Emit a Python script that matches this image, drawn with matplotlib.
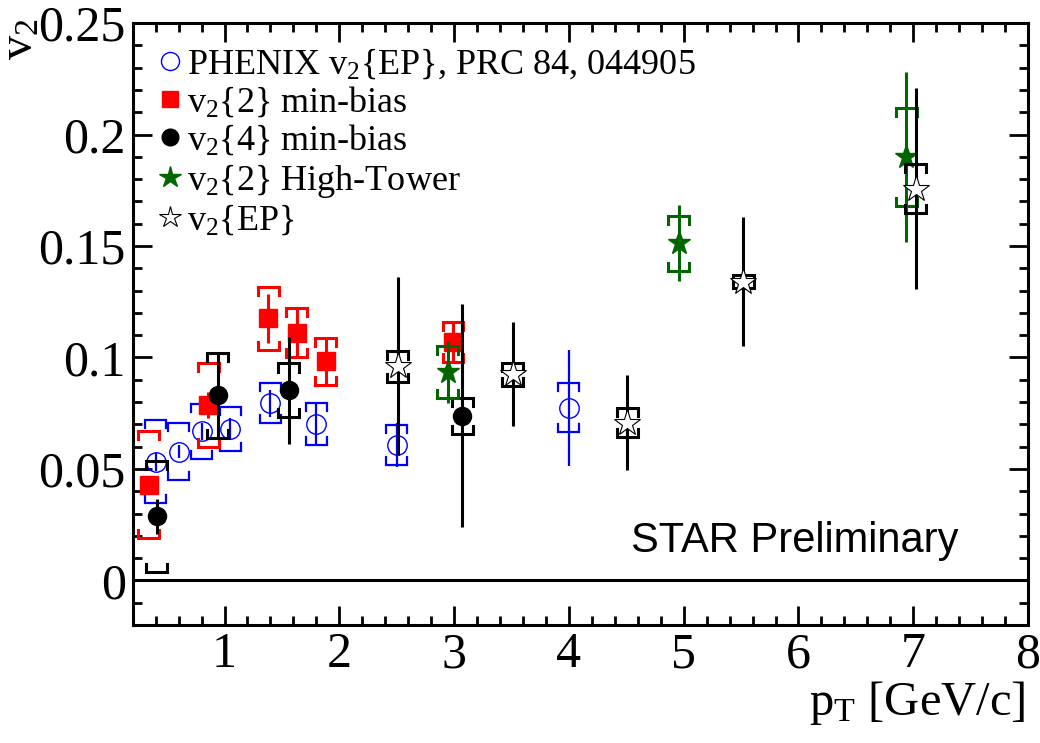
import numpy as np
import matplotlib
matplotlib.use('Agg')
from matplotlib import pyplot as plt
from matplotlib.lines import Line2D
from matplotlib.ticker import MultipleLocator, FuncFormatter

plt.rcParams['font.family'] = ['Liberation Serif', 'DejaVu Serif']
plt.rcParams['mathtext.fontset'] = 'custom'
plt.rcParams['mathtext.rm'] = 'Liberation Serif'
plt.rcParams['mathtext.it'] = 'Liberation Serif:italic'

# PHENIX v2{EP}
phx_pt = [0.40, 0.60, 0.80, 1.05, 1.40, 1.80, 2.50, 4.00]
phx_v2 = [0.0533, 0.0577, 0.0668, 0.0679, 0.0795, 0.0701, 0.0607, 0.0775]
phx_stat = [0.004, 0.003, 0.004, 0.005, 0.006, 0.009, 0.010, 0.026]
phx_sys = [0.0185, 0.0127, 0.0125, 0.010, 0.009, 0.0095, 0.009, 0.011]

# v2{2} min-bias
mb2_pt = [0.34, 0.86, 1.38, 1.63, 1.88, 2.99]
mb2_v2 = [0.0429, 0.0787, 0.1175, 0.111, 0.0982, 0.107]
mb2_stat = [0.003, 0.006, 0.011, 0.011, 0.011, 0.009]
mb2_sys = [0.024, 0.019, 0.0143, 0.011, 0.0107, 0.009]

# v2{4} min-bias
mb4_pt = [0.41, 0.94, 1.56, 3.07]
mb4_v2 = [0.0287, 0.083, 0.0853, 0.0738]
mb4_stat = [0.008, 0.019, 0.024, 0.050]
mb4_sys = [0.025, 0.019, 0.012, 0.0082]

# v2{2} High-Tower
ht_pt = [2.945, 4.955, 6.94]
ht_v2 = [0.0935, 0.1512, 0.190]
ht_stat = [0.014, 0.017, 0.038]
ht_sys = [0.0117, 0.0123, 0.022]

# v2{EP}
ep_pt = [2.507, 3.51, 4.51, 5.52, 7.02]
ep_v2 = [0.0961, 0.0924, 0.0708, 0.134, 0.1757]
ep_stat = [0.040, 0.0233, 0.0214, 0.029, 0.045]
ep_sys = [0.007, 0.005, 0.0066, 0.003, 0.011]

GREEN = '#006600'
BW = 0.091   # bracket half width (pT units)
LEG = 0.0036  # bracket leg length (v2 units)


def draw_sys(ax, xs, ys, sys, color, lw, z):
    for x, y, s in zip(xs, ys, sys):
        top = y + s
        bot = y - s
        ax.plot([x - BW, x - BW, x + BW, x + BW], [top - LEG, top, top, top - LEG],
                color=color, lw=lw, zorder=z, solid_joinstyle='miter')
        ax.plot([x - BW, x - BW, x + BW, x + BW], [bot + LEG, bot, bot, bot + LEG],
                color=color, lw=lw, zorder=z, solid_joinstyle='miter')


fig = plt.figure(figsize=(10.4, 7.43), dpi=100)
ax = fig.add_axes([0.1276, 0.1588, 0.8609, 0.8102])

ax.axhline(0, color='black', lw=2.2, zorder=1)

# PHENIX
draw_sys(ax, phx_pt, phx_v2, phx_sys, 'blue', 1.6, 2)
ax.errorbar(phx_pt, phx_v2, yerr=phx_stat, fmt='none', ecolor='blue', elinewidth=1.6, zorder=2)
ax.plot(phx_pt, phx_v2, ls='none', marker='o', ms=14, mfc='none', mec='blue', mew=1.0, zorder=3)

# v2{2} min-bias
draw_sys(ax, mb2_pt, mb2_v2, mb2_sys, 'red', 2.2, 4)
ax.errorbar(mb2_pt, mb2_v2, yerr=mb2_stat, fmt='none', ecolor='red', elinewidth=2.2, zorder=4)
ax.plot(mb2_pt, mb2_v2, ls='none', marker='s', ms=13, mfc='red', mec='red', zorder=5)

# v2{4} min-bias
draw_sys(ax, mb4_pt, mb4_v2, mb4_sys, 'black', 2.2, 6)
ax.errorbar(mb4_pt, mb4_v2, yerr=mb4_stat, fmt='none', ecolor='black', elinewidth=2.2, zorder=6)
ax.plot(mb4_pt, mb4_v2, ls='none', marker='o', ms=13, mfc='black', mec='black', zorder=7)

# v2{2} High-Tower
draw_sys(ax, ht_pt, ht_v2, ht_sys, GREEN, 2.2, 8)
ax.errorbar(ht_pt, ht_v2, yerr=ht_stat, fmt='none', ecolor=GREEN, elinewidth=2.2, zorder=8)
ax.plot(ht_pt, ht_v2, ls='none', marker='*', ms=17, mfc=GREEN, mec=GREEN, zorder=9)

# v2{EP}
draw_sys(ax, ep_pt, ep_v2, ep_sys, 'black', 2.2, 10)
ax.errorbar(ep_pt, ep_v2, yerr=ep_stat, fmt='none', ecolor='black', elinewidth=2.2, zorder=10)
ax.plot(ep_pt, ep_v2, ls='none', marker='*', ms=20, mfc='white', mec='black', mew=0.8, zorder=11)

ax.set_xlim(0.2, 8.0)
ax.set_ylim(-0.02, 0.25)

ax.xaxis.set_major_locator(MultipleLocator(1))
ax.xaxis.set_minor_locator(MultipleLocator(0.2))
ax.yaxis.set_major_locator(MultipleLocator(0.05))
ax.yaxis.set_minor_locator(MultipleLocator(0.01))
ax.yaxis.set_major_formatter(FuncFormatter(lambda v, p: ('%g' % round(v, 3))))
ax.xaxis.set_major_formatter(FuncFormatter(lambda v, p: '%d' % round(v)))

ax.tick_params(which='both', direction='in', top=True, right=True, width=2.0,
               labelsize=36, pad=5)
ax.tick_params(which='major', length=13.5)
ax.tick_params(which='minor', length=6.8)
for s in ax.spines.values():
    s.set_linewidth(2.2)

fig.text(0.986, 0.022, r'p$_{\rm T}$ [GeV/c]', ha='right', va='bottom', fontsize=35)
fig.text(0.02, 0.975, r'v$_2$', ha='center', va='top', rotation=90, fontsize=35)

ax.text(0.922, 0.121, 'STAR Preliminary', transform=ax.transAxes, ha='right', va='baseline',
        fontsize=30, family=['Liberation Sans', 'DejaVu Sans'])

handles = [
    Line2D([], [], ls='none', marker='o', ms=13, mfc='none', mec='blue', mew=1.0),
    Line2D([], [], ls='none', marker='s', ms=12, mfc='red', mec='red'),
    Line2D([], [], ls='none', marker='o', ms=12, mfc='black', mec='black'),
    Line2D([], [], ls='none', marker='*', ms=16, mfc=GREEN, mec=GREEN),
    Line2D([], [], ls='none', marker='*', ms=16, mfc='white', mec='black', mew=0.8),
]
labels = [
    r'PHENIX v$_2${EP}, PRC 84, 044905',
    r'v$_2${2} min-bias',
    r'v$_2${4} min-bias',
    r'v$_2${2} High-Tower',
    r'v$_2${EP}',
]
ax.legend(handles, labels, loc='upper left', bbox_to_anchor=(0.03, 0.96), frameon=False,
          fontsize=26, handlelength=0.6, handletextpad=0.15, labelspacing=0.1,
          borderpad=0, borderaxespad=0)

fig.savefig('out.png', dpi=100)
